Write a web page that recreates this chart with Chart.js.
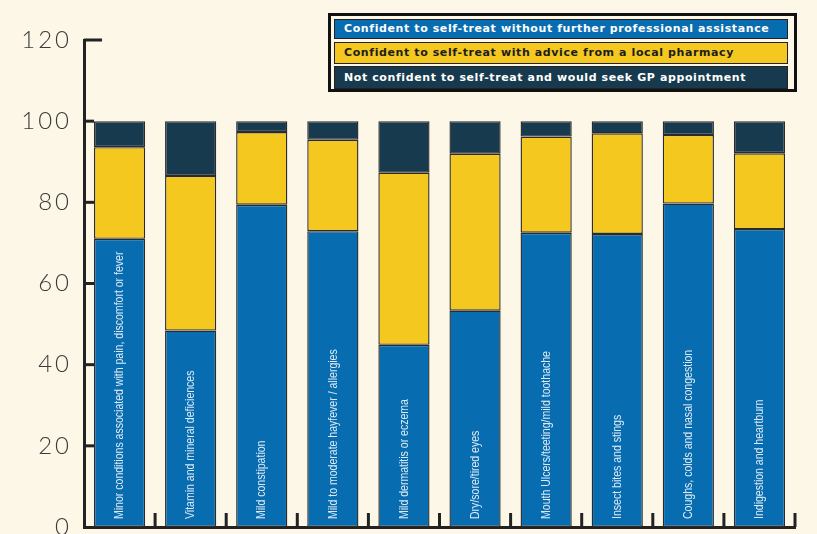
<!DOCTYPE html>
<html>
<head>
<meta charset="utf-8">
<script src="https://cdn.jsdelivr.net/npm/chart.js@4"></script>
<style>
  body { margin: 0; background: #fdf7e7; }
  #wrap { position: relative; width: 817px; height: 534px; }
  #legend { position: absolute; left: 328px; top: 13px; width: 463px; height: 73px; border: 3px solid #111; background: #fdf7e7; }
  .row { position: absolute; left: 3px; width: 443px; border: 1.5px solid #222; font: bold 11px "DejaVu Sans", sans-serif; letter-spacing: 0.6px; padding-left: 9px; white-space: nowrap; }
</style>
</head>
<body>
<div id="wrap">
  <canvas id="chart" width="817" height="534"></canvas>
  <div id="legend"></div>
</div>
<script>
const categories = [
  'Minor conditions associated with pain, discomfort or fever',
  'Vitamin and mineral deficiences',
  'Mild constipation',
  'Mild to moderate hayfever / allergies',
  'Mild dermatitis or eczema',
  'Dry/sore/tired eyes',
  'Mouth Ulcers/teeting/mild toothache',
  'Insect bites and stings',
  'Coughs, colds and nasal congestion',
  'Indigestion and heartburn'
];
const selfTreat = [71, 48.4, 79.4, 72.9, 44.9, 53.3, 72.5, 72.2, 79.7, 73.4];
const pharmacy = [22.6, 38.1, 17.9, 22.5, 42.4, 38.7, 23.7, 24.8, 16.9, 18.7];
const gpAppointment = [6.4, 13.5, 2.7, 4.6, 12.7, 8, 3.8, 3, 3.4, 7.9];
const seriesNames = [
  'Confident to self-treat without further professional assistance',
  'Confident to self-treat with advice from a local pharmacy',
  'Not confident to self-treat and would seek GP appointment'
];
const seriesColors = ['#086db0', '#f4c81f', '#173a4e'];
const legendText = ['#ffffff', '#1d1d1d', '#ffffff'];

// legend rows (custom boxed legend)
const legendTops = [3, 26, 50];
const legendHeights = [18, 20, 21];
seriesNames.forEach(function (name, i) {
  const row = document.createElement('div');
  row.className = 'row';
  row.style.top = legendTops[i] + 'px';
  row.style.height = legendHeights[i] + 'px';
  row.style.lineHeight = legendHeights[i] + 'px';
  row.style.background = seriesColors[i];
  row.style.color = legendText[i];
  row.innerText = name;
  document.getElementById('legend').appendChild(row);
});

// ticks drawn inward and labels inside the bars
const insidePlugin = {
  id: 'inside',
  beforeDraw: function (chart) {
    chart.ctx.letterSpacing = '3px';
  },
  afterDraw: function (chart) {
    const ctx = chart.ctx;
    const x = chart.scales.x;
    const y = chart.scales.y;
    const area = chart.chartArea;
    ctx.save();
    ctx.letterSpacing = '0px';
    ctx.strokeStyle = '#222';
    ctx.lineWidth = 3;
    y.ticks.forEach(function (t, i) {
      if (t.value === 0) return;
      const py = y.getPixelForValue(t.value);
      const len = t.value === 120 ? 18 : 10;
      ctx.beginPath();
      ctx.moveTo(area.left, py);
      ctx.lineTo(area.left + len, py);
      ctx.stroke();
    });
    const half = (x.getPixelForTick(1) - x.getPixelForTick(0)) / 2;
    categories.forEach(function (c, i) {
      const px = x.getPixelForTick(i) + half;
      ctx.beginPath();
      ctx.moveTo(px, area.bottom);
      ctx.lineTo(px, area.bottom - 14);
      ctx.stroke();
    });
    ctx.fillStyle = '#dde9f4';
    ctx.font = '13.5px "Liberation Sans", sans-serif';
    ctx.textAlign = 'left';
    ctx.textBaseline = 'middle';
    categories.forEach(function (c, i) {
      ctx.save();
      ctx.translate(x.getPixelForTick(i), area.bottom - 8);
      ctx.rotate(-Math.PI / 2);
      ctx.scale(0.78, 1);
      ctx.fillText(c, 0, 0);
      ctx.restore();
    });
    ctx.restore();
  }
};

const datasets = [selfTreat, pharmacy, gpAppointment].map(function (d, i) {
  return {
    label: seriesNames[i],
    data: d,
    backgroundColor: seriesColors[i],
    borderColor: '#2b2b2b',
    borderWidth: 1.4,
    borderSkipped: false,
    barPercentage: 0.72,
    categoryPercentage: 1
  };
});

new Chart(document.getElementById('chart'), {
  type: 'bar',
  data: { labels: categories, datasets: datasets },
  plugins: [insidePlugin],
  options: {
    responsive: false,
    animation: false,
    layout: { padding: { top: 40, right: 22, bottom: 7, left: 0 } },
    plugins: { legend: { display: false }, tooltip: { enabled: false } },
    scales: {
      x: {
        stacked: true,
        grid: { display: false, drawTicks: false },
        border: { display: true, color: '#222', width: 3 },
        ticks: { display: false },
        afterFit: function (scale) { scale.height = 0; scale.paddingLeft = 0; scale.paddingRight = 0; }
      },
      y: {
        stacked: true,
        min: 0,
        max: 120,
        grid: { display: false, drawTicks: false },
        border: { display: true, color: '#222', width: 3 },
        ticks: {
          stepSize: 20,
          padding: 12,
          color: '#3a3a3a',
          font: { family: 'Lato', size: 24, weight: '300' }
        },
        afterFit: function (scale) { scale.width = 84; scale.paddingTop = 0; scale.paddingBottom = 0; }
      }
    }
  }
});
</script>
</body>
</html>
